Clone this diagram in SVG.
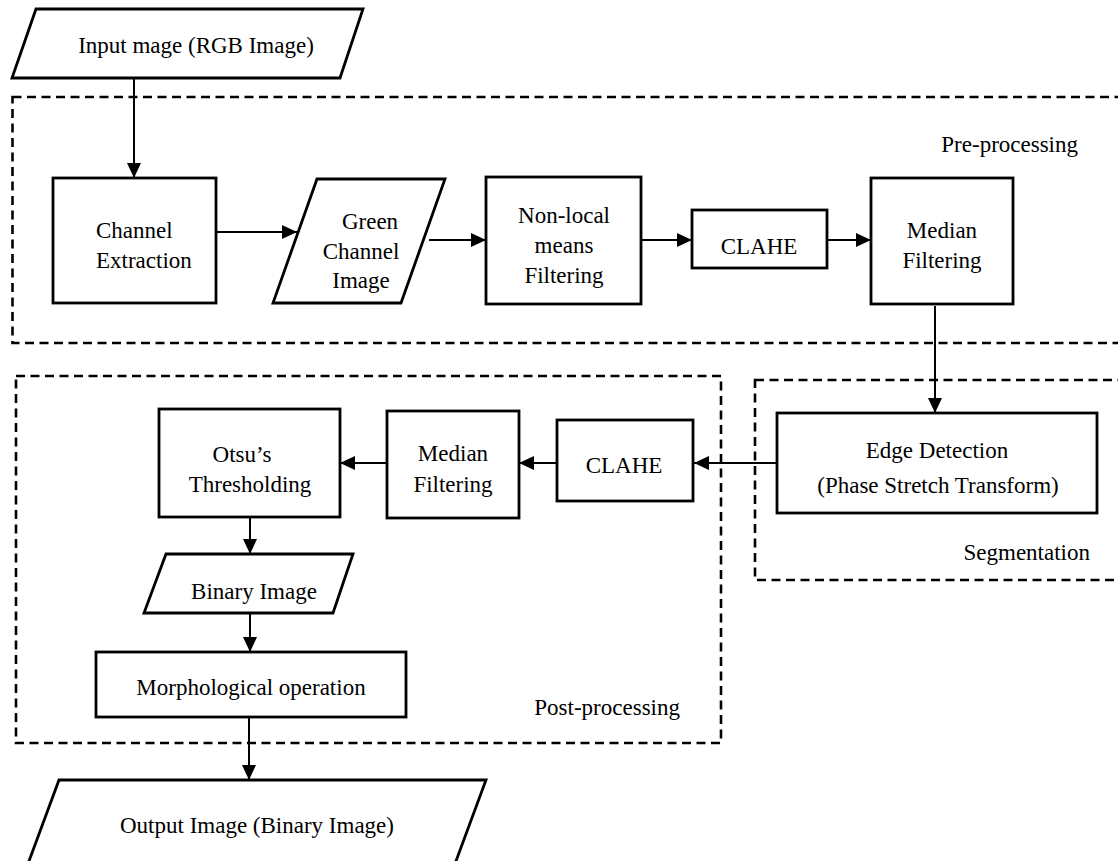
<svg xmlns="http://www.w3.org/2000/svg" width="1118" height="861" viewBox="0 0 1118 861">
<style>
text{font-family:"Liberation Serif","Times New Roman",serif;font-size:23px;fill:#000;text-anchor:middle}
.st{text-anchor:start}
.en{text-anchor:end}
.box{fill:#fff;stroke:#000;stroke-width:2.8}
.grp{fill:none;stroke:#000;stroke-width:2.6;stroke-dasharray:9 5.5}
.con{fill:none;stroke:#000;stroke-width:2}
</style>
<defs>
<marker id="arr" markerUnits="userSpaceOnUse" markerWidth="15" markerHeight="14" refX="15" refY="7" orient="auto">
<path d="M0,0 L15,7 L0,14 z" fill="#000"/>
</marker>
</defs>
<rect width="1118" height="861" fill="#fff"/>
<g id="groups">
<rect class="grp" x="12.5" y="97" width="1200" height="246"/>
<rect class="grp" x="755" y="380" width="500" height="200"/>
<rect class="grp" x="16" y="376" width="705" height="367"/>
<text class="en" x="1078" y="152">Pre-processing</text>
<text class="en" x="1090" y="560">Segmentation</text>
<text class="en" x="680" y="715">Post-processing</text>
</g>
<g id="connectors">
<path class="con" d="M134,78 V178" marker-end="url(#arr)"/>
<path class="con" d="M216,232 H297" marker-end="url(#arr)"/>
<path class="con" d="M429,240 H486" marker-end="url(#arr)"/>
<path class="con" d="M641,240 H692" marker-end="url(#arr)"/>
<path class="con" d="M827,240 H871" marker-end="url(#arr)"/>
<path class="con" d="M935,306 V413" marker-end="url(#arr)"/>
<path class="con" d="M777,463 H694" marker-end="url(#arr)"/>
<path class="con" d="M557,463 H519" marker-end="url(#arr)"/>
<path class="con" d="M387,463 H340" marker-end="url(#arr)"/>
<path class="con" d="M250,517 V554" marker-end="url(#arr)"/>
<path class="con" d="M250,613 V652" marker-end="url(#arr)"/>
<path class="con" d="M249,717 V780" marker-end="url(#arr)"/>
</g>
<g id="input">
<polygon class="box" points="36,9 363,9 340,78 12,78"/>
<text x="196" y="53">Input mage (RGB Image)</text>
</g>
<g id="channel-extraction">
<rect class="box" x="53" y="178" width="163" height="125"/>
<text class="st" x="96" y="238">Channel</text>
<text class="st" x="96" y="268">Extraction</text>
</g>
<g id="green-channel">
<polygon class="box" points="317,179 445,179 401,303 273,303"/>
<text x="370" y="229">Green</text>
<text x="361" y="259">Channel</text>
<text x="361" y="288">Image</text>
</g>
<g id="nlm">
<rect class="box" x="486" y="177" width="155" height="127"/>
<text x="564" y="223">Non-local</text>
<text x="564" y="253">means</text>
<text x="564" y="283">Filtering</text>
</g>
<g id="clahe1">
<rect class="box" x="692" y="210" width="135" height="58"/>
<text x="759" y="254">CLAHE</text>
</g>
<g id="median1">
<rect class="box" x="871" y="178" width="142" height="126"/>
<text x="942" y="238">Median</text>
<text x="942" y="268">Filtering</text>
</g>
<g id="edge">
<rect class="box" x="777" y="413" width="320" height="100"/>
<text x="937" y="458">Edge Detection</text>
<text x="938" y="493">(Phase Stretch Transform)</text>
</g>
<g id="clahe2">
<rect class="box" x="557" y="420" width="136" height="81"/>
<text x="624" y="473">CLAHE</text>
</g>
<g id="median2">
<rect class="box" x="387" y="411" width="132" height="107"/>
<text x="453" y="461">Median</text>
<text x="453" y="492">Filtering</text>
</g>
<g id="otsu">
<rect class="box" x="159" y="409" width="181" height="108"/>
<text x="242" y="462">Otsu’s</text>
<text x="250" y="492">Thresholding</text>
</g>
<g id="binary">
<polygon class="box" points="166,554 353,554 333,613 144,613"/>
<text x="254" y="599">Binary Image</text>
</g>
<g id="morph">
<rect class="box" x="96" y="652" width="310" height="65"/>
<text x="251" y="695">Morphological operation</text>
</g>
<g id="output">
<polygon class="box" points="59,780 486,780 449,880 22,880"/>
<text x="257" y="833">Output Image (Binary Image)</text>
</g>
</svg>
